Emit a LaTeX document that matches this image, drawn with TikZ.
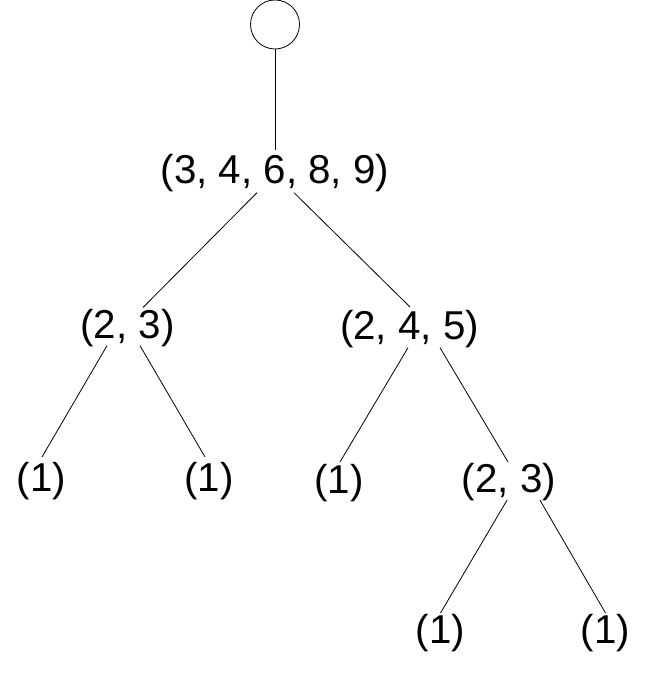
\documentclass[tikz,border=0pt]{standalone}
\usepackage{fontspec}
\setmainfont{Liberation Sans}
\begin{document}
\begin{tikzpicture}[x=1pt,y=1pt,
  lbl/.style={inner sep=0pt, anchor=base, text height=29.3pt, text depth=8.5pt,
    font=\fontsize{40.3}{48}\selectfont},
  conn/.style={draw=black, line width=0.8pt}]
\useasboundingbox (0,0) rectangle (651,687);
\node[circle, draw, line width=0.8pt, minimum size=49pt, inner sep=0pt] (top) at (275,662.5) {};
\node[lbl] (root) at (275,503) {(3, 4, 6, 8, 9)};
\node[lbl] (a) at (127.5,348) {(2, 3)};
\node[lbl] (b) at (409.5,347) {(2, 4, 5)};
\node[lbl] (a1) at (41.5,195.5) {(1)};
\node[lbl] (a2) at (209,195.5) {(1)};
\node[lbl] (b1) at (339,193) {(1)};
\node[lbl] (b2) at (509,194.5) {(2, 3)};
\node[lbl] (b21) at (440.5,43.5) {(1)};
\node[lbl] (b22) at (605.5,43.5) {(1)};
\draw[conn] (top.south) -- ([yshift=4.7pt]root.north);
\draw[conn] ([xshift=-18pt]root.south) -- ([xshift=15.5pt,yshift=2pt]a.north);
\draw[conn] ([xshift=19pt]root.south) -- ([xshift=0.5pt,yshift=3.5pt]b.north);
\draw[conn] ([xshift=-20.5pt,yshift=2pt]a.south) -- ([xshift=0.5pt,yshift=5pt]a1.north);
\draw[conn] ([xshift=12.5pt,yshift=2pt]a.south) -- ([xshift=-4pt,yshift=5pt]a2.north);
\draw[conn] ([xshift=-1.5pt,yshift=1pt]b.south) -- ([xshift=1pt,yshift=2.5pt]b1.north);
\draw[conn] ([xshift=30.5pt,yshift=1pt]b.south) -- ([xshift=-1pt,yshift=1pt]b2.north);
\draw[conn] ([xshift=-2pt,yshift=1pt]b2.south) -- ([yshift=1pt]b21.north);
\draw[conn] ([xshift=31pt,yshift=1pt]b2.south) -- ([yshift=1pt]b22.north);
\end{tikzpicture}
\end{document}
